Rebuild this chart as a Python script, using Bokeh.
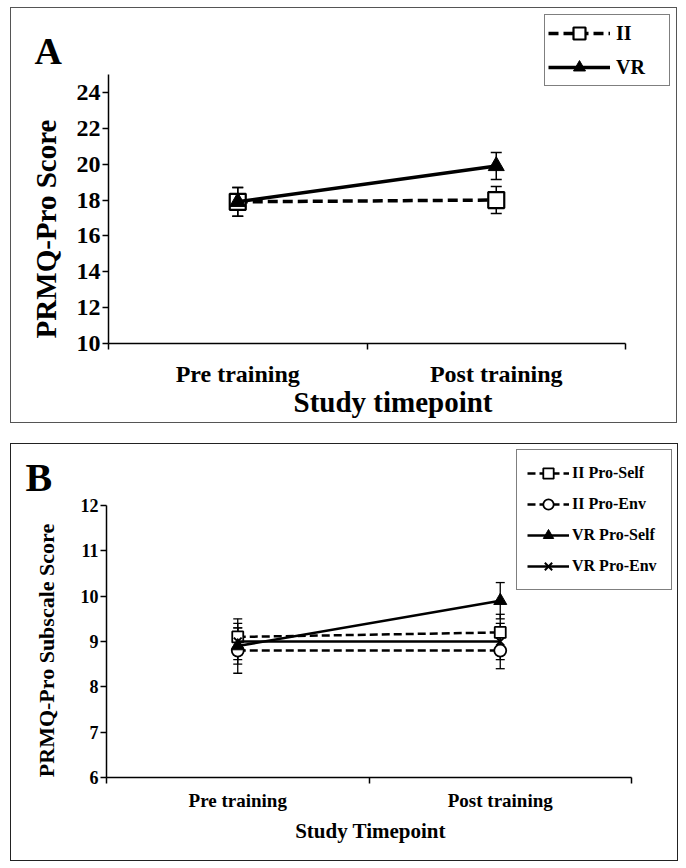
import math
from bokeh.plotting import figure
from bokeh.layouts import column
from bokeh.models import (Range1d, FixedTicker, Whisker, TeeHead, ColumnDataSource,
                          Legend, LegendItem, Label)
from bokeh.embed import file_html
from bokeh.resources import INLINE

# ---------------- data ----------------
categories = ["Pre training", "Post training"]

# Panel A: PRMQ-Pro total score
a_ii_mean = [17.9, 18.0]
a_ii_err = [0.8, 0.75]
a_vr_mean = [17.9, 19.9]
a_vr_err = [0.8, 0.75]
a_yticks = [10, 12, 14, 16, 18, 20, 22, 24]
a_ylim = (10, 25)

# Panel B: PRMQ-Pro subscale scores
b_ii_self_mean = [9.1, 9.2]
b_ii_self_err = [0.4, 0.4]
b_ii_env_mean = [8.8, 8.8]
b_ii_env_err = [0.5, 0.4]
b_vr_self_mean = [8.9, 9.9]
b_vr_self_err = [0.4, 0.4]
b_vr_env_mean = [9.0, 9.0]
b_vr_env_err = [0.4, 0.4]
b_yticks = [6, 7, 8, 9, 10, 11, 12]
b_ylim = (6, 12)

FONT = "Liberation Serif"
xs = [i + 0.5 for i in range(len(categories))]
bounds = list(range(len(categories) + 1))
NX = len(categories)


def make_fig(W, H, x0px, x2px, ybpx, ytpx, ylim):
    """Frame spans the whole figure (2px borders); axes are drawn at fixed
    locations so that annotations (legend, panel letter) are not clipped."""
    FL, FR, FT, FB = 2, W - 2, 2, H - 2
    xppu = (x2px - x0px) / NX
    yppu = (ybpx - ytpx) / (ylim[1] - ylim[0])
    xr = Range1d(0 - (x0px - FL) / xppu, NX + (FR - x2px) / xppu)
    yr = Range1d(ylim[0] - (FB - ybpx) / yppu, ylim[1] + (ytpx - FT) / yppu)
    p = figure(width=W, height=H, output_backend="svg", toolbar_location=None,
               x_range=xr, y_range=yr, min_border_left=FL, min_border_right=2,
               min_border_top=FT, min_border_bottom=2)
    p.xgrid.visible = False
    p.ygrid.visible = False
    p.outline_line_color = None
    return p


def style_axes(p, yticks, ylim, tick_fs, xtick_fs, xstand):
    p.xaxis.fixed_location = ylim[0]
    p.yaxis.fixed_location = 0
    p.xaxis.bounds = (0, NX)
    p.yaxis.bounds = ylim
    p.xaxis.ticker = FixedTicker(ticks=xs, minor_ticks=bounds)
    p.xaxis.major_label_overrides = {x: c for x, c in zip(xs, categories)}
    p.yaxis.ticker = FixedTicker(ticks=yticks, minor_ticks=[])
    for ax in (p.xaxis[0], p.yaxis[0]):
        ax.axis_line_width = 1.5
        ax.axis_line_color = "black"
        ax.major_label_text_font = FONT
        ax.major_label_text_font_style = "bold"
        ax.major_label_text_color = "black"
    p.xaxis.major_tick_line_color = None
    p.xaxis.major_tick_out = 6
    p.xaxis.major_tick_in = 0
    p.xaxis.minor_tick_line_color = "black"
    p.xaxis.minor_tick_line_width = 1.5
    p.xaxis.minor_tick_out = 6
    p.xaxis.minor_tick_in = 0
    p.xaxis.major_label_text_font_size = xtick_fs
    p.xaxis.major_label_standoff = xstand

    p.yaxis.major_tick_line_color = "black"
    p.yaxis.major_tick_line_width = 1.5
    p.yaxis.major_tick_out = 6
    p.yaxis.major_tick_in = 0
    p.yaxis.major_label_text_font_size = tick_fs
    p.yaxis.major_label_standoff = 2


def text_label(p, x, y, xo, yo, text, size, angle=0.0, align="center", baseline="middle"):
    p.add_layout(Label(x=x, y=y, x_offset=xo, y_offset=yo, text=text, angle=angle,
                       text_font=FONT, text_font_style="bold", text_font_size=size,
                       text_align=align, text_baseline=baseline, text_color="black"))


def whisker(p, mean, err, size, lw):
    src = ColumnDataSource(dict(x=xs,
                                upper=[m + e for m, e in zip(mean, err)],
                                lower=[m - e for m, e in zip(mean, err)]))
    w = Whisker(source=src, base="x", upper="upper", lower="lower",
                line_color="black", line_width=lw,
                upper_head=TeeHead(size=size, line_width=lw, line_color="black"),
                lower_head=TeeHead(size=size, line_width=lw, line_color="black"))
    p.add_layout(w)


# ---------------- Panel A ----------------
pA = make_fig(667, 416, 97, 614, 335, 66, a_ylim)
pA.styles = {"border": "1px solid #555555"}
style_axes(pA, a_yticks, a_ylim, "24px", "24px", 11)

whisker(pA, a_ii_mean, a_ii_err, 11, 1.5)
whisker(pA, a_vr_mean, a_vr_err, 11, 1.5)

a_ii_line = pA.line(xs, a_ii_mean, line_color="black", line_width=3.5, line_dash="10 5")
a_ii_mark = pA.scatter(xs, a_ii_mean, marker="square", size=16, fill_color="white",
                       line_color="black", line_width=2.2)
a_vr_line = pA.line(xs, a_vr_mean, line_color="black", line_width=3.5)
a_vr_mark = pA.scatter(xs, a_vr_mean, marker="triangle", size=16, fill_color="black",
                       line_color="black", line_width=1)

legA = Legend(items=[LegendItem(label="II", renderers=[a_ii_line, a_ii_mark]),
                     LegendItem(label="VR", renderers=[a_vr_line, a_vr_mark])],
              location=(531, 336), orientation="vertical",
              border_line_color="black", border_line_width=1.5,
              background_fill_alpha=1, padding=3, spacing=4,
              glyph_width=62, glyph_height=30, label_standoff=6, label_width=50,
              label_text_font=FONT, label_text_font_style="bold",
              label_text_color="black",
              label_text_font_size="20px", label_height=30, margin=0)
pA.add_layout(legA, "center")

text_label(pA, 0, a_ylim[1], -74, 23.5, "A", "38px", align="left")
text_label(pA, 0, sum(a_ylim) / 2, -63, -20, "PRMQ-Pro Score", "29px", angle=math.pi / 2)
text_label(pA, NX / 2, a_ylim[0], 26, -58, "Study timepoint", "29px")

# ---------------- Panel B ----------------
pB = make_fig(668, 418, 95, 620, 333, 61, b_ylim)
pB.styles = {"border": "1.5px solid #222222"}
style_axes(pB, b_yticks, b_ylim, "18px", "19px", 6)

for m, e in ((b_ii_self_mean, b_ii_self_err), (b_ii_env_mean, b_ii_env_err),
             (b_vr_self_mean, b_vr_self_err), (b_vr_env_mean, b_vr_env_err)):
    whisker(pB, m, e, 9, 1.3)

b_ii_self_line = pB.line(xs, b_ii_self_mean, line_color="black", line_width=2.5, line_dash="8 4")
b_ii_self_mark = pB.scatter(xs, b_ii_self_mean, marker="square", size=11, fill_color="white",
                            line_color="black", line_width=1.8)
b_ii_env_line = pB.line(xs, b_ii_env_mean, line_color="black", line_width=2.5, line_dash="8 4")
b_ii_env_mark = pB.scatter(xs, b_ii_env_mean, marker="circle", size=12, fill_color="white",
                           line_color="black", line_width=1.8)
b_vr_self_line = pB.line(xs, b_vr_self_mean, line_color="black", line_width=2.5)
b_vr_self_mark = pB.scatter(xs, b_vr_self_mean, marker="triangle", size=13, fill_color="black",
                            line_color="black", line_width=1)
b_vr_env_line = pB.line(xs, b_vr_env_mean, line_color="black", line_width=2.5)
b_vr_env_mark = pB.scatter(xs, b_vr_env_mean, marker="x", size=11,
                           line_color="black", line_width=2)

legB = Legend(items=[LegendItem(label="II Pro-Self", renderers=[b_ii_self_line, b_ii_self_mark]),
                     LegendItem(label="II Pro-Env", renderers=[b_ii_env_line, b_ii_env_mark]),
                     LegendItem(label="VR Pro-Self", renderers=[b_vr_self_line, b_vr_self_mark]),
                     LegendItem(label="VR Pro-Env", renderers=[b_vr_env_line, b_vr_env_mark])],
              location=(503, 270), orientation="vertical",
              border_line_color="black", border_line_width=1.5,
              background_fill_alpha=1, padding=10, spacing=5,
              glyph_width=42, glyph_height=26, label_standoff=3, label_width=89,
              label_text_font=FONT, label_text_font_style="bold",
              label_text_color="black",
              label_text_font_size="16px", label_height=26, margin=0)
pB.add_layout(legB, "center")

text_label(pB, 0, b_ylim[1], -81, 28, "B", "40px", align="left")
text_label(pB, 0, sum(b_ylim) / 2, -60, -9, "PRMQ-Pro Subscale Score", "22px", angle=math.pi / 2)
text_label(pB, NX / 2, b_ylim[0], 1.5, -53, "Study Timepoint", "21px")

layout = column(pA, pB, spacing=20, margin=(7, 0, 0, 10))
open("out.html", "w").write(file_html(layout, INLINE))
